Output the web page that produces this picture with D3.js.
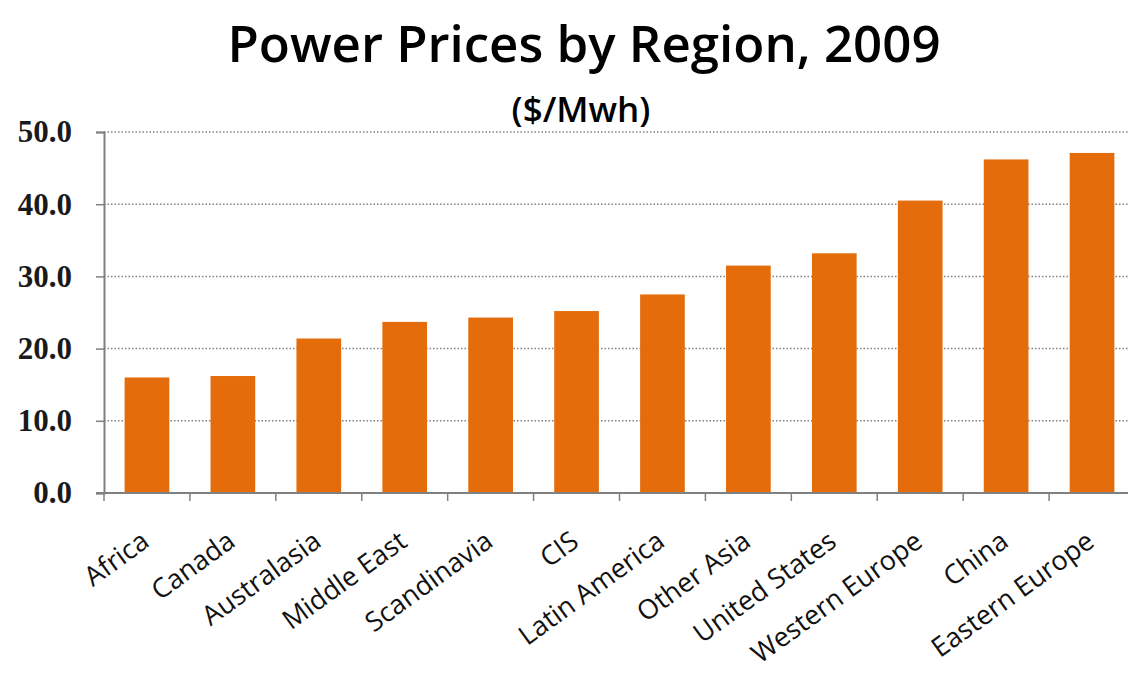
<!DOCTYPE html>
<html>
<head>
<meta charset="utf-8">
<script src="https://cdn.jsdelivr.net/npm/d3@7"></script>
<style>
  body { margin: 0; background: #fff; }
</style>
</head>
<body>
<div id="chart-area"></div>
<script>
const regions = ["Africa", "Canada", "Australasia", "Middle East", "Scandinavia", "CIS",
  "Latin America", "Other Asia", "United States", "Western Europe", "China", "Eastern Europe"]
const prices = [16.0, 16.2, 21.4, 23.7, 24.3, 25.2, 27.5, 31.5, 33.2, 40.5, 46.2, 47.1]
const yTicks = [0, 10, 20, 30, 40, 50]

const W = 1128, H = 673
const MARGIN = { LEFT: 104, RIGHT: -7, TOP: 132, BOTTOM: 180 }
const WIDTH = W - MARGIN.LEFT - MARGIN.RIGHT
const HEIGHT = H - MARGIN.TOP - MARGIN.BOTTOM

const svg = d3.select("#chart-area").append("svg")
  .attr("width", W)
  .attr("height", H)

svg.append("rect").attr("width", W).attr("height", H).attr("fill", "#fff")

// titles
svg.append("text")
  .attr("x", 584)
  .attr("y", 62)
  .attr("text-anchor", "middle")
  .attr("font-family", "Open Sans")
  .attr("font-weight", 600)
  .attr("font-size", "51px")
  .attr("fill", "#000")
  .text("Power Prices by Region, 2009")

svg.append("text")
  .attr("x", 581)
  .attr("y", 122)
  .attr("text-anchor", "middle")
  .attr("font-family", "Open Sans")
  .attr("font-weight", 600)
  .attr("font-size", "35px")
  .attr("fill", "#000")
  .text("($/Mwh)")

const g = svg.append("g")
  .attr("transform", `translate(${MARGIN.LEFT}, ${MARGIN.TOP})`)

const x = d3.scaleBand()
  .domain(regions)
  .range([0, WIDTH])
  .paddingInner(0.48)
  .paddingOuter(0.24)

const y = d3.scaleLinear()
  .domain([0, 50])
  .range([HEIGHT, 0])

// dotted gridlines
g.append("g")
  .selectAll("line")
  .data(yTicks.filter(d => d > 0))
  .enter().append("line")
    .attr("x1", 0)
    .attr("x2", WIDTH)
    .attr("y1", d => y(d))
    .attr("y2", d => y(d))
    .attr("stroke", "#808080")
    .attr("stroke-width", 1.5)
    .attr("stroke-dasharray", "1.5,2")

// bars
g.selectAll("rect.bar")
  .data(prices)
  .enter().append("rect")
    .attr("class", "bar")
    .attr("x", (d, i) => x(regions[i]))
    .attr("y", d => y(d))
    .attr("width", x.bandwidth())
    .attr("height", d => HEIGHT - y(d))
    .attr("fill", "#E46C0A")

// y axis
const yAxisGroup = g.append("g")
  .call(d3.axisLeft(y).tickValues(yTicks).tickFormat(d3.format(".1f")).tickSizeOuter(0).tickSize(8).tickPadding(24))
yAxisGroup.select(".domain").attr("stroke", "#808080").attr("stroke-width", 2)
yAxisGroup.selectAll(".tick line").attr("stroke", "#808080").attr("stroke-width", 1.5)
yAxisGroup.selectAll("text")
  .attr("font-family", "Liberation Serif")
  .attr("font-weight", "bold")
  .attr("font-size", "31px")
  .attr("fill", "#1a1a1a")

// x axis with ticks at category boundaries
const xAxisGroup = g.append("g")
  .attr("transform", `translate(0, ${HEIGHT})`)
xAxisGroup.append("line")
  .attr("x1", -8).attr("x2", WIDTH)
  .attr("stroke", "#808080").attr("stroke-width", 2)
xAxisGroup.selectAll("line.sep")
  .data(regions)
  .enter().append("line")
    .attr("class", "sep")
    .attr("x1", d => x(d) - x.step() * x.paddingOuter())
    .attr("x2", d => x(d) - x.step() * x.paddingOuter())
    .attr("y1", 0).attr("y2", 8)
    .attr("stroke", "#808080").attr("stroke-width", 1.5)

xAxisGroup.selectAll("text.lbl")
  .data(regions)
  .enter().append("text")
    .attr("class", "lbl")
    .attr("text-anchor", "end")
    .attr("font-family", "Open Sans")
    .attr("font-size", "27px")
    .attr("fill", "#111")
    .attr("transform", d => `translate(${x(d) + x.bandwidth() / 2 + 4}, 52) rotate(-36)`)
    .text(d => d)
</script>
</body>
</html>
